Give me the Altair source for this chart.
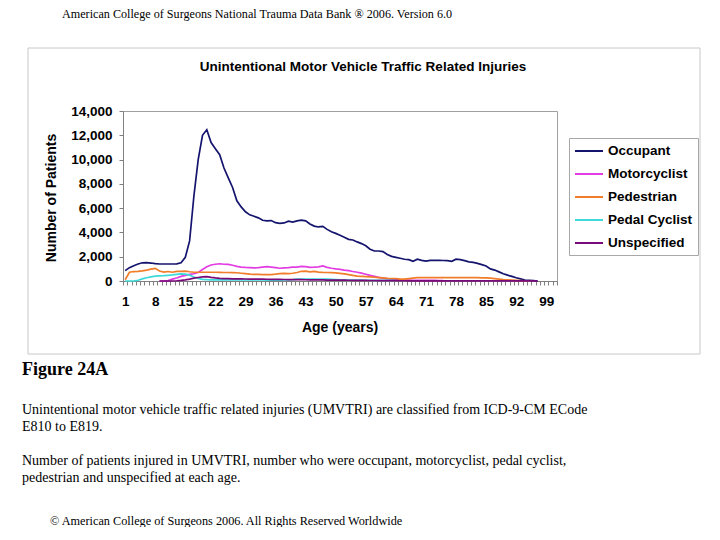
import altair as alt
import pandas as pd

# ---------------- data ----------------
ages = list(range(1, 102))

occupant = [850, 1100, 1260, 1400, 1500, 1510, 1480, 1430, 1400, 1400,
            1400, 1400, 1410, 1500, 1950, 3300, 7000, 10000, 12000, 12450,
            11400, 10900, 10400, 9300, 8500, 7700, 6600, 6100, 5700, 5450,
            5330, 5200, 5000, 4950, 4980, 4800, 4750, 4780, 4920, 4850,
            4950, 5020, 4950, 4700, 4520, 4450, 4500, 4250, 4050, 3920,
            3760, 3600, 3430, 3380, 3220, 3080, 2900, 2620, 2470, 2470,
            2420, 2180, 2030, 1950, 1870, 1790, 1760, 1620, 1800, 1700,
            1640, 1700, 1700, 1700, 1690, 1680, 1620, 1800, 1760, 1680,
            1580, 1530, 1450, 1350, 1230, 1000, 900, 750, 600, 480,
            380, 270, 180, 80, 60, 40, 0, None, None, None,
            None]

motorcyclist = [None] * 8 + [0, 0,
                30, 150, 250, 380, 460, 540, 600, 700, 950, 1180,
                1320, 1380, 1420, 1380, 1370, 1300, 1200, 1150, 1120, 1100,
                1080, 1100, 1150, 1180, 1150, 1100, 1050, 1080, 1100, 1150,
                1150, 1200, 1180, 1130, 1140, 1160, 1240, 1120, 1050, 1000,
                960, 900, 850, 780, 720, 650, 560, 460, 380, 300,
                240, 190, 150, 120, 100, 80, 70, 60, 60, 55,
                50, 50, 45, 40, 30] + [None] * 26

pedestrian = [100, 720, 780, 800, 830, 900, 980, 1040, 820, 730,
              780, 720, 790, 800, 820, 760, 720, 720, 720, 720,
              720, 720, 710, 700, 700, 690, 680, 640, 600, 560,
              550, 540, 530, 520, 530, 560, 600, 620, 600, 640,
              700, 800, 820, 760, 790, 730, 710, 700, 690, 670,
              630, 580, 530, 460, 400, 380, 360, 340, 310, 280,
              250, 220, 200, 190, 160, 150, 200, 240, 270, 280,
              280, 280, 280, 280, 280, 280, 280, 280, 280, 280,
              275, 270, 270, 265, 260, 230, 190, 150, 110, 90,
              70, 55, 40, 20, 0, None, None, None, None, None,
              None]

pedal_cyclist = [0, 0, 0, 60, 170, 270, 340, 400, 420, 440,
                 470, 500, 540, 580, 560, 480, 330, 220, 140, 110,
                 100, 100, 95, 95, 90, 90, 90, 85, 85, 85,
                 85, 85, 85, 80, 80, 80, 80, 85, 90, 110,
                 150, 150, 150, 150, 150, 150, 150, 150, 140, 120,
                 100, 90, 80, 75, 70, 65, 60, 60, 55, 55,
                 50, 50, 50, 40] + [None] * 37

unspecified = [None] * 8 + [0, 0, 0, 0,
               20, 50, 100, 160, 230, 290, 340, 360,
               300, 250, 220, 200, 190, 180, 175, 170, 165, 160,
               160, 150, 150, 145, 140, 135, 130, 125, 120, 115,
               110, 110, 105, 100, 95, 90, 85, 80, 80, 75,
               70, 65, 60, 55, 50, 50, 45, 40, 40, 35,
               30, 30, 25, 25, 20, 20, 15, 15, 15, 10,
               10, 10, 10, 10, 10, 10, 5, 5, 5, 5,
               5, 5, 5, 5, 5, 5, 5, 5, 5, 5,
               5, 5, 5, 5, 5, 5, 0] + [None] * 4

series_names = ["Occupant", "Motorcyclist", "Pedestrian", "Pedal Cyclist", "Unspecified"]
series_values = [occupant, motorcyclist, pedestrian, pedal_cyclist, unspecified]
series_colors = ["#14146e", "#e23ce2", "#f07d2a", "#3ddada", "#7a0a7a"]

y_ticks = [0, 2000, 4000, 6000, 8000, 10000, 12000, 14000]

header_text = "American College of Surgeons National Trauma Data Bank \u00ae  2006. Version 6.0"
chart_title = "Unintentional Motor Vehicle Traffic Related Injuries"
y_title = "Number of Patients"
x_title = "Age (years)"
figure_label = "Figure 24A"
para_lines = [
    "Unintentional motor vehicle traffic related injuries (UMVTRI) are classified from ICD-9-CM ECode",
    "E810 to E819.",
    "Number of patients injured in UMVTRI, number who were occupant, motorcyclist, pedal cyclist,",
    "pedestrian and unspecified at each age.",
]
footer_text = "\u00a9 American College of Surgeons 2006. All Rights Reserved Worldwide"

# ---------------- build table ----------------
rows = []
for name, vals in zip(series_names, series_values):
    for a, v in zip(ages, vals):
        rows.append({"age": a, "value": v, "series": name})
df = pd.DataFrame(rows)

SANS = "Liberation Sans"
SERIF = "Liberation Serif"
W, H = 434, 170

tick_vals = [a - 0.5 for a in ages] + [ages[-1] + 0.5]
label_expr = "datum.value % 7 == 0.5 ? format(datum.value + 0.5, 'd') : ''"

lines = alt.Chart(df).mark_line(strokeWidth=1.7).encode(
    x=alt.X("age:Q",
            scale=alt.Scale(domain=[0.5, 101.5], nice=False, zero=False),
            axis=alt.Axis(values=tick_vals, labelExpr=label_expr, labelOffset=2.15,
                          labelOverlap=False, labelFlush=False, tickSize=4, grid=False,
                          title=None, labelFont=SANS, labelFontSize=13.5, labelFontWeight="bold",
                          labelColor="black", labelPadding=9, domainColor="#808080",
                          tickColor="#808080")),
    y=alt.Y("value:Q",
            scale=alt.Scale(domain=[0, 14000], nice=False),
            axis=alt.Axis(values=y_ticks, format=",.0f", tickSize=4, grid=False, title=None,
                          labelFont=SANS, labelFontSize=13.5, labelFontWeight="bold",
                          labelColor="black", labelPadding=7, domainColor="#808080",
                          tickColor="#808080")),
    color=alt.Color("series:N",
                    scale=alt.Scale(domain=series_names, range=series_colors),
                    legend=alt.Legend(orient="none", legendX=446, legendY=27, title=None,
                                      direction="vertical", padding=5, strokeColor="#a8a8a8",
                                      fillColor="white", labelFont=SANS, labelFontSize=13.5,
                                      labelFontWeight="bold", labelColor="black", labelOffset=18,
                                      symbolType="M-1,0H3", symbolSize=196, symbolStrokeWidth=2,
                                      rowPadding=8)),
)

one = pd.DataFrame({"k": [0]})

box = alt.Chart(one).mark_rect(fill="white", fillOpacity=0, stroke="#c8c8c8", strokeWidth=1).encode(
    x=alt.value(-95), x2=alt.value(577), y=alt.value(-63), y2=alt.value(243))


def txt(s, x, y, font=SANS, size=12, weight="normal", align="left", angle=0):
    return alt.Chart(one).mark_text(font=font, fontSize=size, fontWeight=weight, align=align,
                                    baseline="middle", angle=angle, color="black").encode(
        x=alt.value(x), y=alt.value(y), text=alt.value(s))


layers = [
    box,
    lines,
    txt(header_text, -61, -97, font=SERIF, size=12.15),
    txt(chart_title, 240, -44, size=13.5, weight="bold", align="center"),
    txt(y_title, -71, 87, size=14, weight="bold", align="center", angle=270),
    txt(x_title, 217, 217, size=14, weight="bold", align="center"),
    txt(figure_label, -101, 259, font=SERIF, size=18, weight="bold"),
    txt(para_lines[0], -101, 299, font=SERIF, size=14),
    txt(para_lines[1], -101, 316, font=SERIF, size=14),
    txt(para_lines[2], -101, 350, font=SERIF, size=14),
    txt(para_lines[3], -101, 367, font=SERIF, size=14),
    txt(footer_text, -73, 410, font=SERIF, size=12.25),
]

chart = alt.layer(*layers).properties(
    width=W, height=H,
    padding={"left": 115, "top": 103, "right": 150, "bottom": 246},
    autosize=alt.AutoSizeParams(type="none"),
    background="white",
).configure_view(stroke="#a0a0a0", strokeWidth=1)

chart.save("out.html", embed_options={"renderer": "svg", "actions": False})
